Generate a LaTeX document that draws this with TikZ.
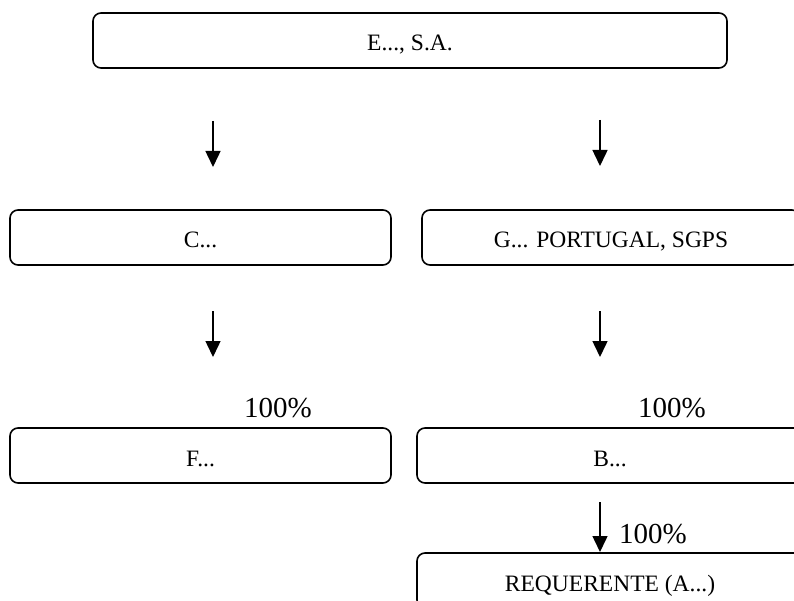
\documentclass[tikz,border=0pt]{standalone}
\usepackage{fontspec}
\setmainfont{Liberation Serif}
\usetikzlibrary{arrows.meta}
\tikzset{>={Triangle[width=15pt,length=16pt]}}
\tikzset{caixa/.style={draw, rounded corners=8pt, line width=1.6pt, minimum height=55pt,
    font=\fontsize{23.5}{28}\selectfont, text height=21pt, text depth=0pt}}
\tikzset{pct/.style={font=\fontsize{29}{34}\selectfont, anchor=base}}

\begin{document}
\begin{tikzpicture}[x=1pt,y=-1pt]
        \useasboundingbox (0,0) rectangle (794,601);
        \clip (0,0) rectangle (794,601);
        % caixas
        \node[caixa, minimum width=634pt] (e) at (410,40.5) {E..., S.A.};
        \node[caixa, minimum width=381pt] (c) at (200.5,237.5) {C...};
        \node[caixa, minimum width=378pt] (g) at (611,237.5) {G... PORTUGAL, SGPS};
        \node[caixa, minimum width=381pt] (f) at (200.5,455.5) {F...};
        \node[caixa, minimum width=386pt] (b) at (610,455.5) {B...};
        \node[caixa, minimum width=386pt] (req) at (610,580.5) {REQUERENTE (A...)};
        % setas
        \coordinate (ec1) at (213,121);
        \coordinate (ec2) at (213,167);
        \coordinate (eg1) at (600,120);
        \coordinate (eg2) at (600,166);
        \coordinate (cf1) at (213,311);
        \coordinate (cf2) at (213,357);
        \coordinate (gb1) at (600,311);
        \coordinate (gb2) at (600,357);
        \coordinate (br1) at (600,502);
        \coordinate (br2) at (600,552);
        \draw[->, line width=1.5pt] (ec1) -- (ec2);
        \draw[->, line width=1.5pt] (eg1) -- (eg2);
        \draw[->, line width=1.5pt] (cf1) -- (cf2);
        \draw[->, line width=1.5pt] (gb1) -- (gb2);
        \draw[->, line width=1.5pt] (br1) -- (br2);
        % percentagens
        \node[pct] (pf) at (278,417) {100\%};
        \node[pct] (pb) at (672,417) {100\%};
        \node[pct] (pr) at (653,543) {100\%};
\end{tikzpicture}
\end{document}
